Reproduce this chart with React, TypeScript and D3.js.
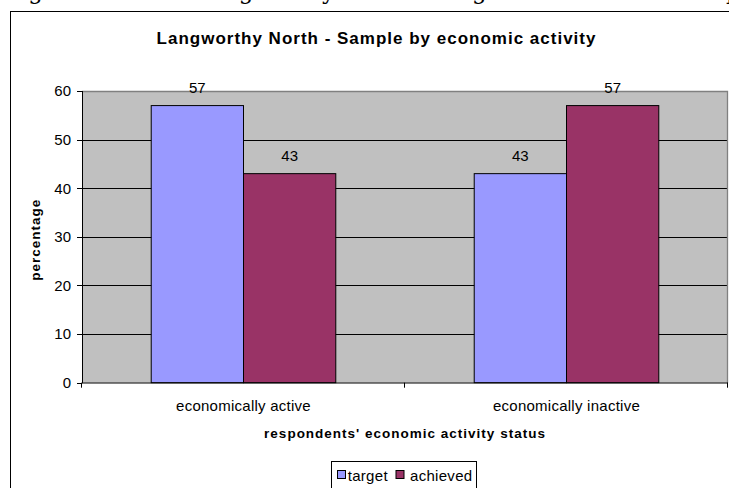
import React from "react";
import * as d3 from "d3";

// Survey sample by economic activity (percentages)
const categories = ["economically active", "economically inactive"];
const seriesNames = ["target", "achieved"];
const targetValues = [57, 43];
const achievedValues = [43, 57];
const seriesColors = ["#9999FF", "#993366"];
const yTicks = [0, 10, 20, 30, 40, 50, 60];

const chartTitle = "Langworthy North - Sample by economic activity";
const xTitle = "respondents' economic activity status";
const yTitle = "percentage";
const figureLabel = "Figure 5:";
const figureCaption = "Langworthy North - Target and achieved sample by economic activity";

const W = 729;
const H = 488;
const plot = { left: 82, right: 728, top: 91, bottom: 382.7 };
const SANS = "'Liberation Sans', Arial, Helvetica, sans-serif";

export default function App() {
  const x0 = d3
    .scaleBand<string>()
    .domain(categories)
    .range([plot.left, plot.right])
    .paddingInner(0)
    .paddingOuter(0);
  const band = x0.bandwidth();
  // two bars per group, 150% gap between groups
  const barW = band / 3.5;
  const x1 = d3
    .scaleBand<string>()
    .domain(seriesNames)
    .range([(band - 2 * barW) / 2, (band + 2 * barW) / 2])
    .padding(0);
  const y = d3.scaleLinear().domain([0, 60]).range([plot.bottom, plot.top]);

  const seriesValues = [targetValues, achievedValues];
  const bars = categories.flatMap((c, ci) =>
    seriesNames.map((s, si) => ({
      key: `${c}-${s}`,
      x: (x0(c) ?? 0) + (x1(s) ?? 0),
      v: seriesValues[si][ci],
      color: seriesColors[si],
    }))
  );

  const boundaries = [plot.left, ...categories.map((c) => (x0(c) ?? 0) + band)];

  return (
    <svg
      width={W}
      height={H}
      viewBox={`0 0 ${W} ${H}`}
      style={{ position: "fixed", left: 0, top: 0, background: "#fff" }}
    >
      {/* document caption above the chart frame */}
      <g fontFamily="'DejaVu Serif', 'Liberation Serif', serif" fontSize={23} fill="#000">
        <text x={5} y={-1}>{figureLabel}</text>
        <text x={195} y={-1}>{figureCaption}</text>
      </g>

      {/* chart frame */}
      <rect x={10.5} y={11.5} width={740} height={500} fill="#fff" stroke="#000" strokeWidth={1} />

      {/* plot area */}
      <rect
        x={plot.left}
        y={plot.top}
        width={plot.right - plot.left}
        height={plot.bottom - plot.top}
        fill="#C0C0C0"
      />
      {yTicks
        .filter((t) => t > 0 && t < 60)
        .map((t) => (
          <line
            key={`g${t}`}
            x1={plot.left}
            x2={plot.right}
            y1={Math.round(y(t)) + 0.5}
            y2={Math.round(y(t)) + 0.5}
            stroke="#000"
            strokeWidth={1}
          />
        ))}
      <path
        d={`M${plot.left},${plot.top + 0.5}H${plot.right - 0.5}V${plot.bottom}`}
        fill="none"
        stroke="#808080"
        strokeWidth={1.3}
      />

      {/* bars */}
      {bars.map((b) => (
        <rect
          key={b.key}
          x={b.x}
          y={y(b.v)}
          width={barW}
          height={plot.bottom - y(b.v)}
          fill={b.color}
          stroke="#000"
          strokeWidth={1}
        />
      ))}

      {/* value labels */}
      <g fontFamily={SANS} fontSize={15} textAnchor="middle" fill="#000">
        {bars.map((b) => (
          <text key={`l${b.key}`} x={b.x + barW / 2} y={y(b.v) - 12.5}>
            {b.v}
          </text>
        ))}
      </g>

      {/* y axis */}
      <line x1={plot.left + 0.5} x2={plot.left + 0.5} y1={plot.top} y2={plot.bottom + 0.5} stroke="#000" />
      {yTicks.map((t) => (
        <g key={`yt${t}`}>
          <line
            x1={plot.left - 5}
            x2={plot.left}
            y1={Math.round(y(t)) + 0.5}
            y2={Math.round(y(t)) + 0.5}
            stroke="#000"
          />
          <text
            x={71}
            y={y(t) + 5.3}
            textAnchor="end"
            fontFamily={SANS}
            fontSize={15}
            fill="#000"
          >
            {t}
          </text>
        </g>
      ))}

      {/* x axis */}
      <line x1={plot.left} x2={plot.right} y1={plot.bottom + 0.3} y2={plot.bottom + 0.3} stroke="#000" />
      {boundaries.map((bx, i) => (
        <line
          key={`xt${i}`}
          x1={Math.round(bx) - 0.5}
          x2={Math.round(bx) - 0.5}
          y1={plot.bottom}
          y2={plot.bottom + 5}
          stroke="#000"
        />
      ))}
      <g fontFamily={SANS} fontSize={15} letterSpacing={0.25} textAnchor="middle" fill="#000">
        {categories.map((c) => (
          <text key={`xc${c}`} x={(x0(c) ?? 0) + band / 2} y={410.7}>
            {c}
          </text>
        ))}
      </g>

      {/* titles */}
      <text
        x={376.5}
        y={44.3}
        textAnchor="middle"
        fontFamily={SANS}
        fontWeight="bold"
        fontSize={17}
        letterSpacing={1}
        fill="#000"
      >
        {chartTitle}
      </text>
      <text
        x={(plot.left + plot.right) / 2}
        y={438.3}
        textAnchor="middle"
        fontFamily={SANS}
        fontWeight="bold"
        fontSize={13.5}
        letterSpacing={1}
        fill="#000"
      >
        {xTitle}
      </text>
      <text
        transform={`translate(40,${(plot.top + plot.bottom) / 2 + 3}) rotate(-90)`}
        textAnchor="middle"
        fontFamily={SANS}
        fontWeight="bold"
        fontSize={13.5}
        letterSpacing={1}
        fill="#000"
      >
        {yTitle}
      </text>

      {/* legend */}
      <rect x={331.5} y={461.5} width={145} height={40} fill="#fff" stroke="#000" />
      {seriesNames.map((s, i) => {
        const sx = i === 0 ? 337.5 : 396;
        return (
          <g key={`lg${s}`}>
            <rect x={sx} y={470.5} width={8} height={8} fill={seriesColors[i]} stroke="#000" />
            <text
              x={sx + (i === 0 ? 10.2 : 14)}
              y={481}
              fontFamily={SANS}
              fontSize={15}
              letterSpacing={0.3}
              fill="#000"
            >
              {s}
            </text>
          </g>
        );
      })}
    </svg>
  );
}
